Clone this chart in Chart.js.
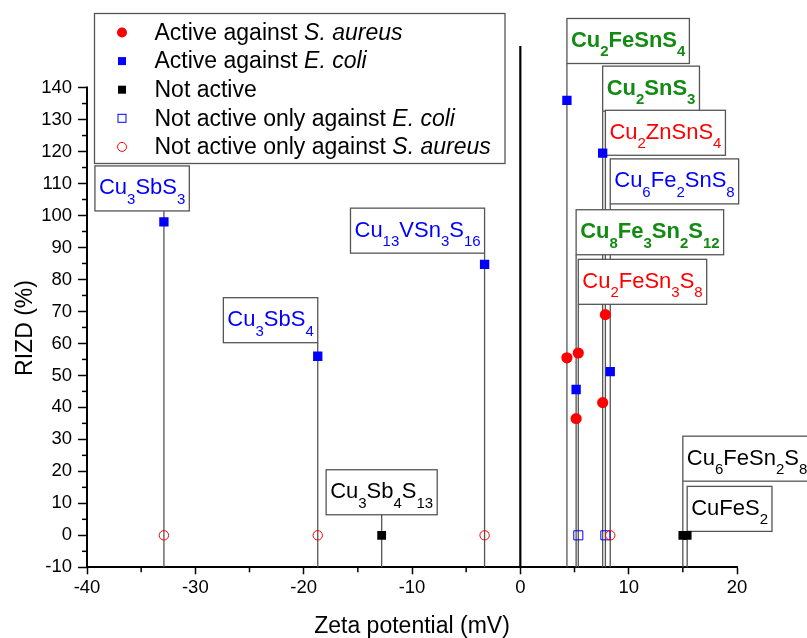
<!DOCTYPE html>
<html>
<head>
<meta charset="utf-8">
<script src="https://cdn.jsdelivr.net/npm/chart.js@4.4.1/dist/chart.umd.min.js"></script>
<style>
body { margin: 0; background: #fff; }
#wrap { width: 807px; height: 638px; position: relative; }
</style>
</head>
<body>
<div id="wrap"><canvas id="chart"></canvas></div>
<script>
// compounds and their measured values
const compounds = ['Cu3SbS3', 'Cu3SbS4', 'Cu3Sb4S13', 'Cu13VSn3S16', 'Cu2FeSnS4', 'Cu8Fe3Sn2S12',
    'Cu2FeSn3S8', 'Cu2SnS3', 'Cu2ZnSnS4', 'Cu6Fe2SnS8', 'Cu6FeSn2S8', 'CuFeS2']
const zeta = [-32.9, -18.7, -12.8, -3.3, 4.3, 5.15, 5.35, 7.6, 7.85, 8.3, 15.0, 15.4]
const rizdSAureus = [null, null, null, null, 55.5, 36.5, 57, 41.5, 69, null, null, null]
const rizdEColi = [98, 56, null, 84.7, 136, 45.6, null, 119.5, null, 51.2, null, null]
const rizdNotActive = [null, null, 0, null, null, null, null, null, null, null, 0, 0]
const rizdNotEColiOnly = [null, null, null, null, null, null, 0, null, 0, null, null, null]
const rizdNotSAureusOnly = [0, 0, null, 0, null, null, null, null, null, 0, null, null]

const xTicks = [-40, -30, -20, -10, 0, 10, 20]
const yTicks = [-10, 0, 10, 20, 30, 40, 50, 60, 70, 80, 90, 100, 110, 120, 130, 140]

// label box layout: top edge (in RIZD units) and where the box sits against its drop line
const labelTop = [115.5, 74.3, 20.5, 102.3, 161.6, 101.8, 86.3, 146.7, 132.9, 117.7, 31, 15.3]
const labelAnchor = [-69, 'right', 'center', 'right', 'left', 'left', 'left', 'left', 'left', 'left', 'left', 'left']

const FONT = '"Liberation Sans", Arial, sans-serif'
const RED = '#ff0000'
const BLUE = '#0000ff'
const GREEN = '#138a13'
const Y_MAX = 153

function toPoints(values) {
    const pts = []
    values.forEach((v, i) => {
        if (v !== null) pts.push({ x: zeta[i], y: v })
    })
    return pts
}

function labelStyle(i) {
    const sa = rizdSAureus[i] !== null
    const ec = rizdEColi[i] !== null
    if (sa && ec) return { color: GREEN, bold: true }
    if (sa) return { color: RED, bold: false }
    if (ec) return { color: BLUE, bold: false }
    return { color: '#000', bold: false }
}

function formulaParts(formula) {
    return formula.match(/[A-Za-z]+|\d+/g).map(t => ({ text: t, sub: /\d/.test(t) }))
}

function measureFormula(ctx, formula, bold) {
    let w = 0
    formulaParts(formula).forEach(p => {
        ctx.font = `${bold ? 'bold ' : ''}${p.sub ? 15 : 22}px ${FONT}`
        w += ctx.measureText(p.text).width
    })
    return w
}

function drawFormula(ctx, formula, x, baseline, color, bold) {
    ctx.fillStyle = color
    ctx.textBaseline = 'alphabetic'
    ctx.textAlign = 'left'
    formulaParts(formula).forEach(p => {
        ctx.font = `${bold ? 'bold ' : ''}${p.sub ? 15 : 22}px ${FONT}`
        ctx.fillText(p.text, x, p.sub ? baseline + 9.5 : baseline)
        x += ctx.measureText(p.text).width
    })
}

const BOX_H = 45
const BOX_PAD = 4

function labelBoxes(chart) {
    const { ctx, scales: { x, y } } = chart
    return compounds.map((name, i) => {
        const style = labelStyle(i)
        const w = measureFormula(ctx, name, style.bold) + 2 * BOX_PAD
        const px = x.getPixelForValue(zeta[i])
        let left = px
        const a = labelAnchor[i]
        if (a === 'right') left = px - w
        else if (a === 'center') left = px - w / 2
        else if (typeof a === 'number') left = px + a
        const top = y.getPixelForValue(labelTop[i])
        return { name, px, left, top, w, style }
    })
}

const legendRows = [
    { marker: 'dot', parts: [['Active against ', false], ['S. aureus', true]] },
    { marker: 'square', parts: [['Active against ', false], ['E. coli', true]] },
    { marker: 'black', parts: [['Not active', false]] },
    { marker: 'openSquare', parts: [['Not active only against ', false], ['E. coli', true]] },
    { marker: 'openCircle', parts: [['Not active only against ', false], ['S. aureus', true]] },
]

function drawMarker(ctx, kind, cx, cy) {
    ctx.save()
    if (kind === 'dot') {
        ctx.fillStyle = RED
        ctx.beginPath(); ctx.arc(cx, cy, 5, 0, Math.PI * 2); ctx.fill()
    } else if (kind === 'square' || kind === 'black') {
        ctx.fillStyle = kind === 'square' ? BLUE : '#000'
        ctx.fillRect(cx - 4, cy - 4, 8, 8)
    } else if (kind === 'openSquare') {
        ctx.strokeStyle = BLUE; ctx.lineWidth = 1
        ctx.strokeRect(cx - 4, cy - 4, 8, 8)
    } else {
        ctx.strokeStyle = RED; ctx.lineWidth = 1
        ctx.beginPath(); ctx.arc(cx, cy, 4.5, 0, Math.PI * 2); ctx.stroke()
    }
    ctx.restore()
}

const annotations = {
    id: 'annotations',
    beforeDatasetsDraw(chart) {
        const { ctx, scales: { x, y } } = chart
        ctx.save()
        // zero line
        const x0 = x.getPixelForValue(0)
        ctx.strokeStyle = '#000'
        ctx.lineWidth = 2.2
        ctx.beginPath()
        ctx.moveTo(x0, y.getPixelForValue(Y_MAX))
        ctx.lineTo(x0, y.bottom)
        ctx.stroke()

        // y axis line (ends at 140)
        ctx.lineWidth = 2
        ctx.beginPath()
        ctx.moveTo(x.left, y.getPixelForValue(140) - 1)
        ctx.lineTo(x.left, y.bottom)
        ctx.stroke()

        // minor ticks
        ctx.lineWidth = 1.5
        for (let v = -5; v < 140; v += 10) {
            const py = y.getPixelForValue(v)
            ctx.beginPath(); ctx.moveTo(x.left - 5, py); ctx.lineTo(x.left, py); ctx.stroke()
        }
        for (let v = -35; v < 20; v += 10) {
            const pxm = x.getPixelForValue(v)
            ctx.beginPath(); ctx.moveTo(pxm, y.bottom); ctx.lineTo(pxm, y.bottom + 5); ctx.stroke()
        }

        // drop lines from label boxes
        const boxes = labelBoxes(chart)
        ctx.strokeStyle = '#555'
        ctx.lineWidth = 1.3
        boxes.forEach(b => {
            ctx.beginPath()
            ctx.moveTo(b.px, b.top + BOX_H)
            ctx.lineTo(b.px, y.bottom)
            ctx.stroke()
        })

        // label boxes
        boxes.forEach(b => {
            ctx.fillStyle = '#fff'
            ctx.fillRect(b.left, b.top, b.w, BOX_H)
            ctx.strokeStyle = '#555'
            ctx.lineWidth = 1.3
            ctx.strokeRect(b.left, b.top, b.w, BOX_H)
            drawFormula(ctx, b.name, b.left + BOX_PAD, b.top + 28.5, b.style.color, b.style.bold)
        })
        ctx.restore()
    },
    afterDraw(chart) {
        const { ctx, scales: { x, y } } = chart
        ctx.save()
        // legend
        const lx = 94.5, ly = 13.5, lw = 410.5, lh = 150
        ctx.fillStyle = '#fff'
        ctx.fillRect(lx, ly, lw, lh)
        ctx.strokeStyle = '#555'
        ctx.lineWidth = 1.3
        ctx.strokeRect(lx, ly, lw, lh)
        legendRows.forEach((row, i) => {
            const cy = 32.5 + i * 28.6
            drawMarker(ctx, row.marker, 122, cy)
            let tx = 154.5
            ctx.fillStyle = '#000'
            ctx.textBaseline = 'middle'
            ctx.textAlign = 'left'
            row.parts.forEach(([t, italic]) => {
                ctx.font = `${italic ? 'italic ' : ''}23px ${FONT}`
                ctx.fillText(t, tx, cy + 1)
                tx += ctx.measureText(t).width
            })
        })

        // axis titles
        ctx.fillStyle = '#000'
        ctx.font = `23px ${FONT}`
        ctx.textAlign = 'center'
        ctx.textBaseline = 'middle'
        ctx.fillText('Zeta potential (mV)', (x.left + x.right) / 2, 627)
        ctx.translate(26, 328)
        ctx.rotate(-Math.PI / 2)
        ctx.fillText('RIZD (%)', 0, 0)
        ctx.restore()
    }
}

const ctx = document.getElementById('chart').getContext('2d')
const chart = new Chart(ctx, {
    type: 'scatter',
    data: {
        datasets: [
            {
                label: 'Not active only against S. aureus',
                data: toPoints(rizdNotSAureusOnly),
                pointStyle: 'circle',
                pointRadius: 4.7,
                backgroundColor: 'rgba(255,255,255,0)',
                borderColor: RED,
                borderWidth: 1,
            },
            {
                label: 'Not active only against E. coli',
                data: toPoints(rizdNotEColiOnly),
                pointStyle: 'rect',
                pointRadius: 6.4,
                backgroundColor: 'rgba(255,255,255,0)',
                borderColor: BLUE,
                borderWidth: 1,
            },
            {
                label: 'Not active',
                data: toPoints(rizdNotActive),
                pointStyle: 'rect',
                pointRadius: 6.2,
                backgroundColor: '#000',
                borderColor: '#000',
                borderWidth: 0,
            },
            {
                label: 'Active against E. coli',
                data: toPoints(rizdEColi),
                pointStyle: 'rect',
                pointRadius: 6.6,
                backgroundColor: BLUE,
                borderColor: BLUE,
                borderWidth: 0,
            },
            {
                label: 'Active against S. aureus',
                data: toPoints(rizdSAureus),
                pointStyle: 'circle',
                pointRadius: 5.6,
                backgroundColor: RED,
                borderColor: RED,
                borderWidth: 0,
            },
        ]
    },
    options: {
        responsive: true,
        maintainAspectRatio: false,
        animation: false,
        layout: { padding: { top: 46, right: 70, left: 0, bottom: 0 } },
        plugins: {
            legend: { display: false },
            tooltip: { enabled: false },
        },
        scales: {
            x: {
                type: 'linear',
                min: -40,
                max: 20,
                afterFit: scale => { scale.height = 70.7 },
                afterBuildTicks: scale => { scale.ticks = xTicks.map(v => ({ value: v })) },
                border: { display: true, color: '#000', width: 2 },
                grid: { display: true, drawOnChartArea: false, drawTicks: true, tickLength: 7, tickColor: '#000', tickWidth: 1.5 },
                ticks: { color: '#000', font: { family: FONT, size: 18.5 }, padding: 3, maxRotation: 0 },
            },
            y: {
                type: 'linear',
                min: -10,
                max: Y_MAX,
                afterFit: scale => { scale.width = 87 },
                afterBuildTicks: scale => { scale.ticks = yTicks.map(v => ({ value: v })) },
                border: { display: false },
                grid: { display: true, drawOnChartArea: false, drawTicks: true, tickLength: 9, tickColor: '#000', tickWidth: 1.5 },
                ticks: { color: '#000', font: { family: FONT, size: 18.5 }, padding: 6 },
            },
        },
    },
    plugins: [annotations],
})
</script>
</body>
</html>
